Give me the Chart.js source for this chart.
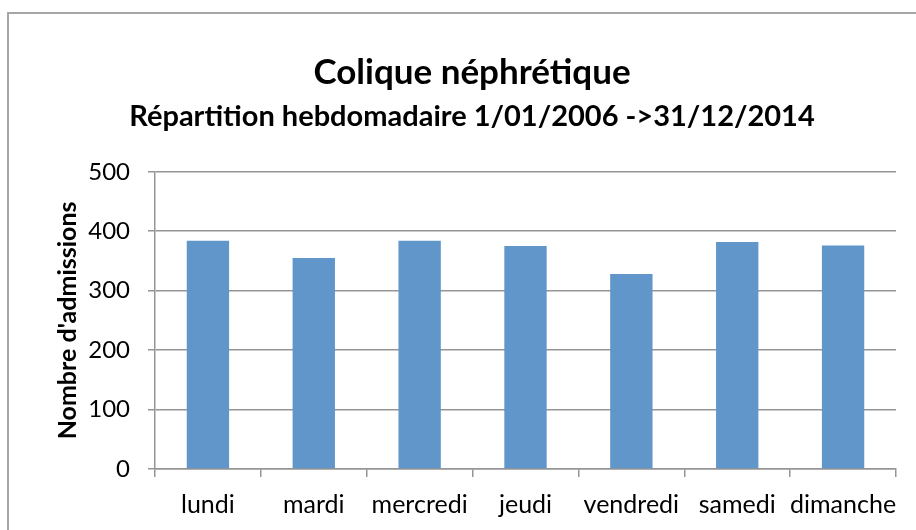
<!DOCTYPE html>
<html>
<head>
<meta charset="utf-8">
<script src="https://cdn.jsdelivr.net/npm/chart.js@4/dist/chart.umd.min.js"></script>
<style>
    html, body { margin: 0; padding: 0; background: #fff; overflow: hidden; }
    #wrap { position: relative; width: 916px; height: 530px; }
    #frame { position: absolute; left: 7px; top: 12px; width: 960px; height: 600px; border: 2px solid #a6a6a6; box-sizing: border-box; }
    canvas { position: absolute; left: 0; top: 0; }
</style>
</head>
<body>
<div id="wrap">
    <div id="frame"></div>
    <canvas id="myChart" width="916" height="530"></canvas>
</div>
<script>
    // jours de la semaine et nombre d'admissions
    var jours = ['lundi', 'mardi', 'mercredi', 'jeudi', 'vendredi', 'samedi', 'dimanche'];
    var admissions = [384, 355, 384, 375, 328, 382, 376];
    var yTicks = [0, 100, 200, 300, 400, 500];

    var titre = 'Colique néphrétique';
    var sousTitre = 'Répartition hebdomadaire 1/01/2006 ->31/12/2014';
    var titreAxeY = "Nombre d'admissions";

    var police = 'Lato, "Open Sans", sans-serif';
    var gris = '#959595';

    var ctx = document.getElementById('myChart');
    const data = {
        labels: jours,
        datasets: [{
            label: 'Admissions',
            data: admissions,
            backgroundColor: '#6096ca',
            borderWidth: 0,
            categoryPercentage: 0.8,
            barPercentage: 0.5
        }]
    };
    var myChart = new Chart(ctx, {
        type: 'bar',
        data: data,
        options: {
            responsive: false,
            animation: false,
            layout: { padding: { top: 52, left: 48, right: 20, bottom: 0 } },
            plugins: {
                legend: { display: false },
                tooltip: { enabled: false },
                title: {
                    display: true,
                    text: titre,
                    color: '#000',
                    font: { family: police, size: 35, weight: 'bold' },
                    padding: { top: 0, bottom: 5 }
                },
                subtitle: {
                    display: true,
                    text: sousTitre,
                    color: '#000',
                    font: { family: police, size: 29, weight: 'bold' },
                    padding: { top: 0, bottom: 38 }
                }
            },
            scales: {
                x: {
                    afterFit: function (scale) { scale.height = 61; },
                    grid: { drawOnChartArea: false, color: gris, lineWidth: 1.5, tickLength: 8, offset: true },
                    border: { color: gris, width: 1.5 },
                    ticks: { color: '#000', font: { family: police, size: 25 }, padding: 13, maxRotation: 0, autoSkip: false }
                },
                y: {
                    min: 0,
                    max: 500,
                    afterFit: function (scale) { scale.width = 107; },
                    afterBuildTicks: function (axis) {
                        axis.ticks = yTicks.map(function (v) { return { value: v }; });
                    },
                    grid: { color: gris, lineWidth: 1.5, tickLength: 7 },
                    border: { color: gris, width: 1.5 },
                    ticks: { color: '#000', font: { family: police, size: 24 }, padding: 18 },
                    title: {
                        display: true,
                        text: titreAxeY,
                        color: '#000',
                        font: { family: police, size: 25, weight: 'bold' },
                        padding: { top: 5, bottom: 0 }
                    }
                }
            }
        }
    });
</script>
</body>
</html>
